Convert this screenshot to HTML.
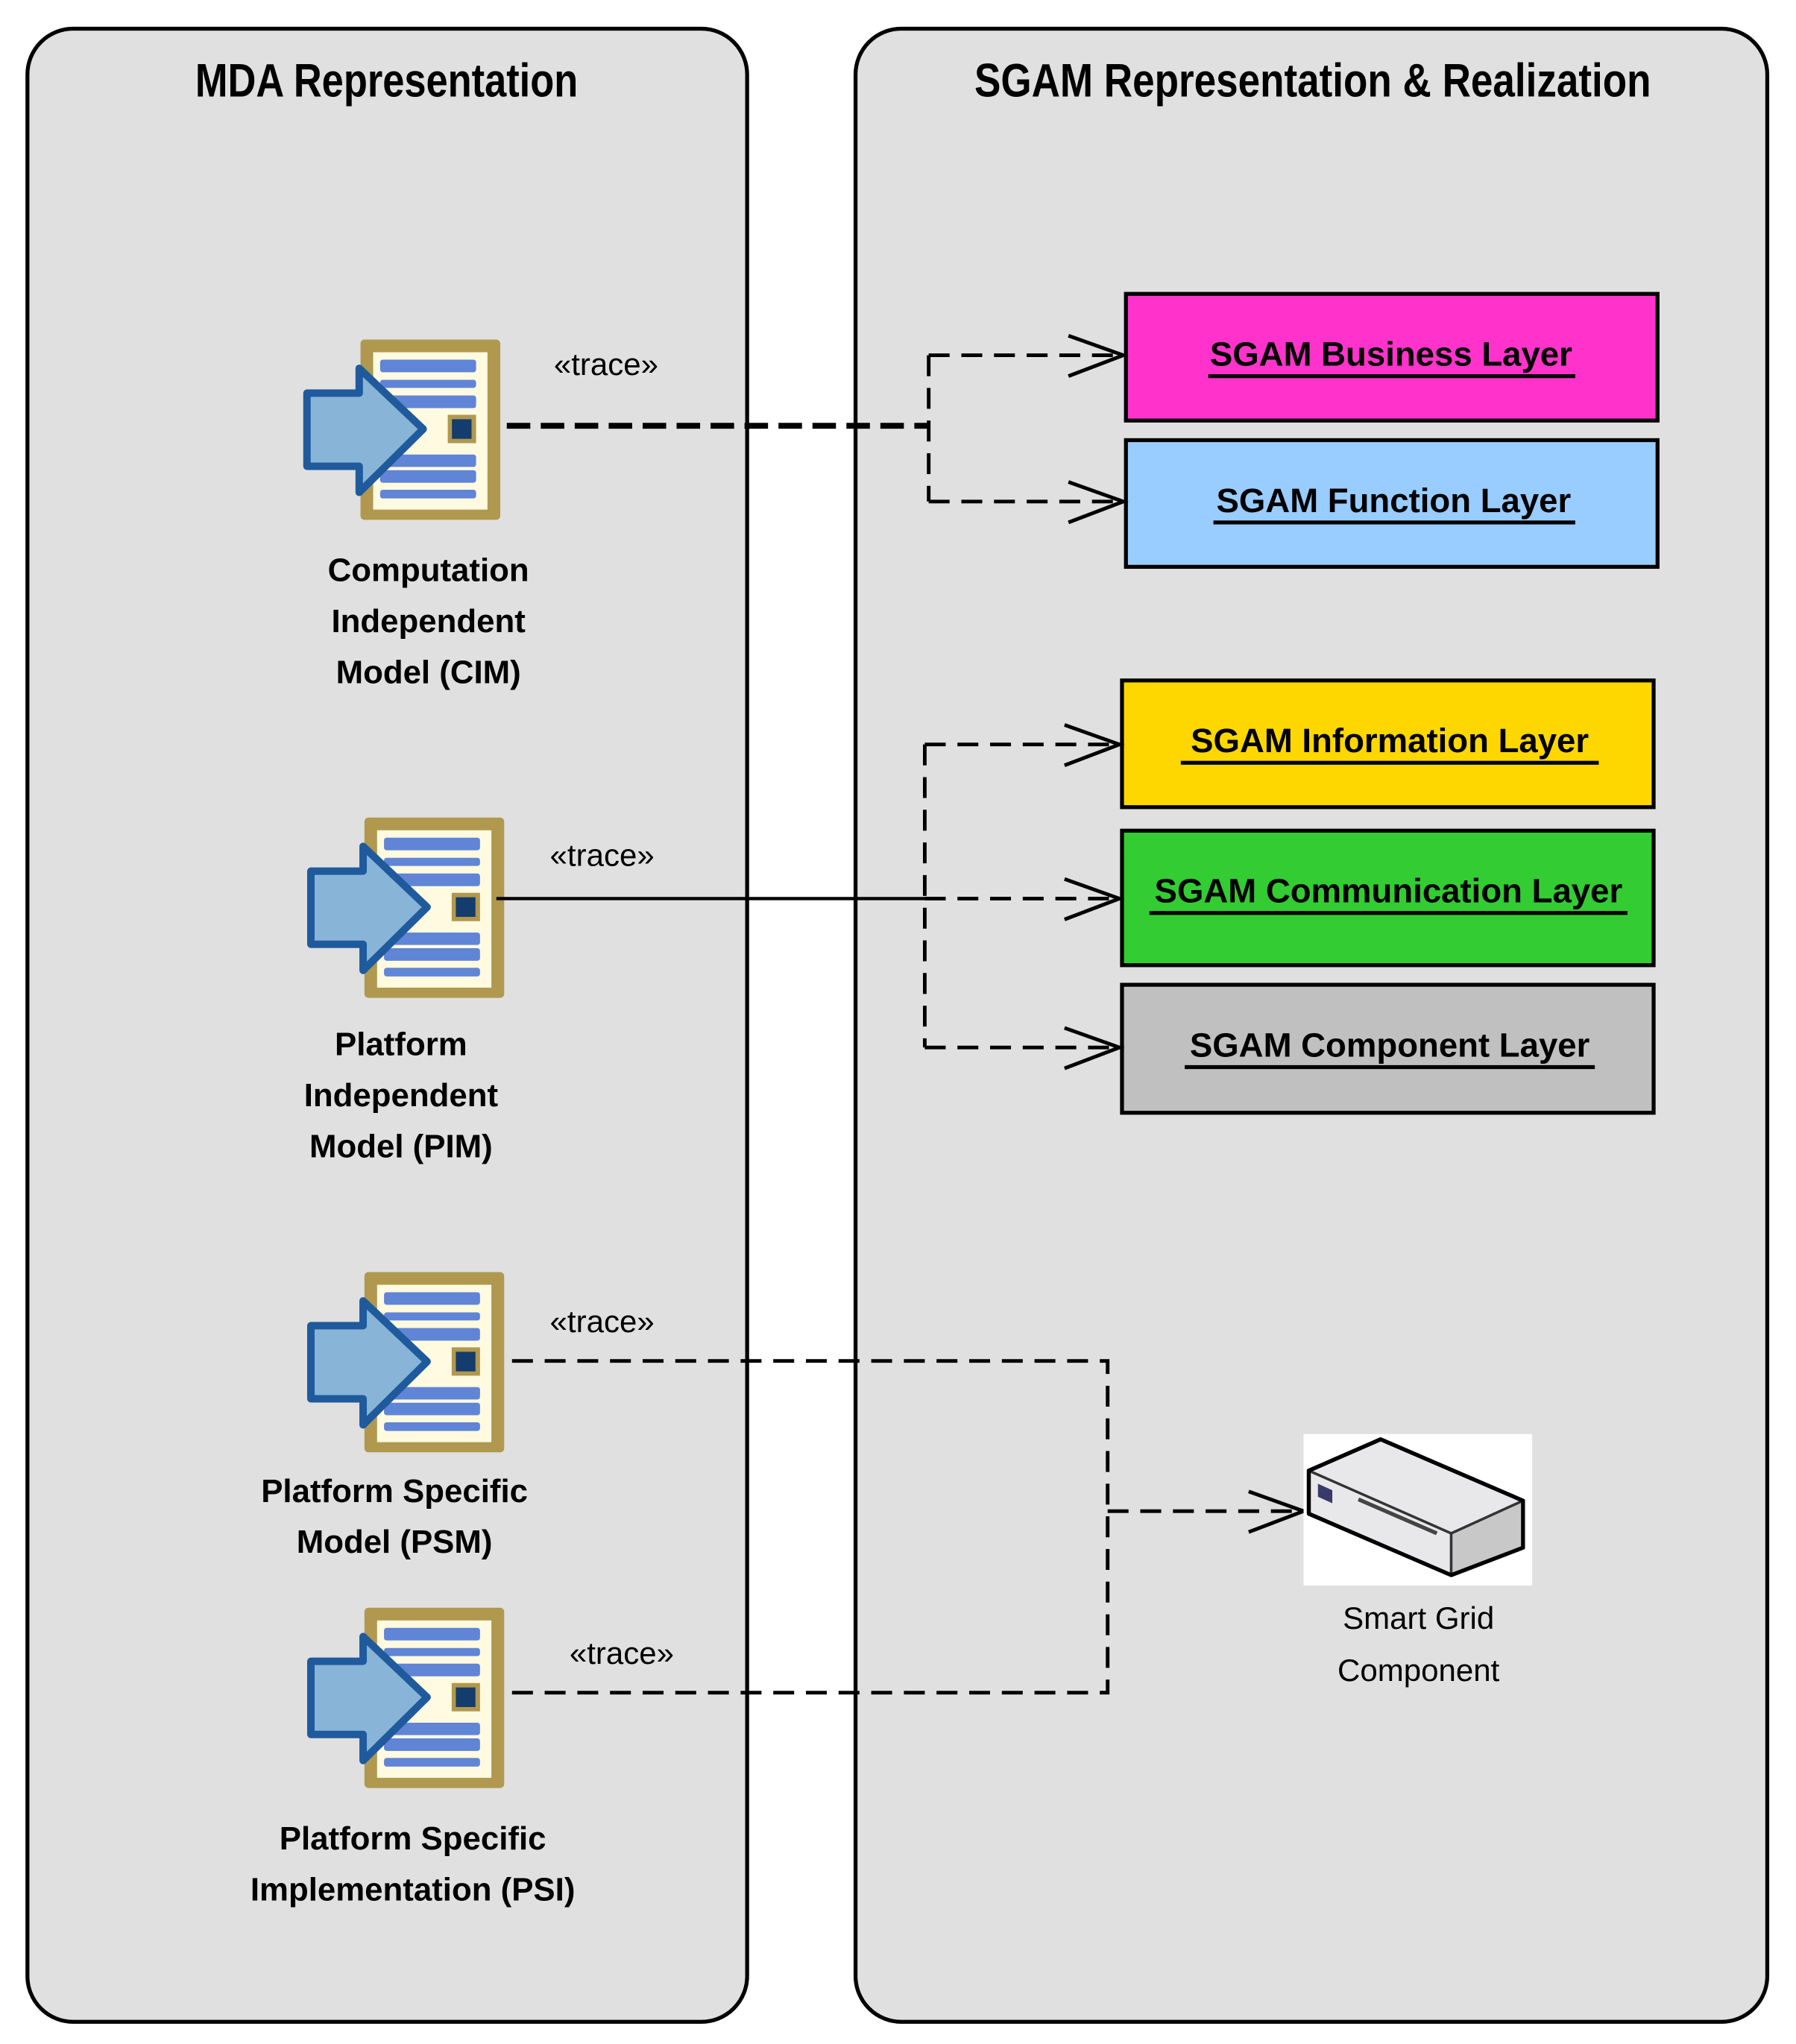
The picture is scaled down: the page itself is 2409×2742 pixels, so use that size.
<!DOCTYPE html>
<html><head><meta charset="utf-8"><style>
html,body{margin:0;padding:0;background:#fff;}
svg{display:block;}
text{font-family:"Liberation Sans",sans-serif;}
</style></head><body>
<svg width="2409" height="2742" viewBox="0 0 1375 1565" preserveAspectRatio="none" xmlns="http://www.w3.org/2000/svg">
<defs>
<g id="ic">
  <rect x="0" y="0" width="107" height="138" rx="3" fill="#b0984f"/>
  <rect x="9.7" y="9.7" width="87.5" height="120.5" fill="#fffae0"/>
  <g fill="#6085d6">
    <rect x="15" y="15.4" width="73.5" height="9.6" rx="2"/>
    <rect x="15" y="30.8" width="73.5" height="6.2" rx="2"/>
    <rect x="15" y="42.8" width="73.5" height="9.7" rx="2"/>
    <rect x="15" y="88" width="73.5" height="9.5" rx="2"/>
    <rect x="15" y="100" width="73.5" height="9.6" rx="2"/>
    <rect x="15" y="115" width="73.5" height="6.6" rx="2"/>
  </g>
  <rect x="66.8" y="57.6" width="21.7" height="21.7" fill="#b0984f"/>
  <rect x="70" y="61" width="15" height="15" fill="#143c6c"/>
  <polygon points="-41,41 -1,41 -1,22 48,68.5 -1,117 -1,97 -41,97" fill="#88b4d8" stroke="#1f5a9c" stroke-width="5.7" stroke-linejoin="round"/>
</g>
</defs>

<rect x="21" y="22" width="551" height="1526" rx="35" fill="#e0e0e0" stroke="#000" stroke-width="3"/>
<rect x="655" y="22" width="698" height="1526" rx="35" fill="#e0e0e0" stroke="#000" stroke-width="3"/>
<text x="296" y="74" text-anchor="middle" font-size="36" font-weight="bold" textLength="293" lengthAdjust="spacingAndGlyphs">MDA Representation</text>
<text x="1005" y="74" text-anchor="middle" font-size="36" font-weight="bold" textLength="518" lengthAdjust="spacingAndGlyphs">SGAM Representation &amp; Realization</text>

<use href="#ic" x="276" y="260"/>
<use href="#ic" x="279" y="626"/>
<use href="#ic" x="279" y="974"/>
<use href="#ic" x="279" y="1231"/>

<g font-size="25" font-weight="bold" text-anchor="middle" fill="#000">
<text x="328" y="445">Computation</text>
<text x="328" y="484">Independent</text>
<text x="328" y="523">Model (CIM)</text>
<text x="307" y="808">Platform</text>
<text x="307" y="847">Independent</text>
<text x="307" y="886">Model (PIM)</text>
<text x="302" y="1150">Platform Specific</text>
<text x="302" y="1189">Model (PSM)</text>
<text x="316" y="1416">Platform Specific</text>
<text x="316" y="1455">Implementation (PSI)</text>
</g>
<g font-size="24" text-anchor="middle" fill="#000">
<text x="464" y="287">«trace»</text>
<text x="461" y="663">«trace»</text>
<text x="461" y="1020">«trace»</text>
<text x="476" y="1274">«trace»</text>
<text x="1086" y="1247">Smart Grid</text>
<text x="1086" y="1287">Component</text>
</g>

<g stroke="#000" stroke-width="3">
<rect x="862" y="225" width="407" height="97" fill="#ff33cc"/>
<rect x="862" y="337" width="407" height="97" fill="#99ccff"/>
<rect x="859" y="521" width="407" height="97" fill="#ffd700"/>
<rect x="859" y="636" width="407" height="103" fill="#33cc33"/>
<rect x="859" y="754" width="407" height="98" fill="#c0c0c0"/>
</g>
<g font-size="26" font-weight="bold" text-anchor="middle" fill="#000">
<text x="1065" y="280">SGAM Business Layer</text>
<text x="1067" y="392">SGAM Function Layer</text>
<text x="1064" y="576">SGAM Information Layer</text>
<text x="1063" y="691">SGAM Communication Layer</text>
<text x="1064" y="809">SGAM Component Layer</text>
</g>
<g stroke="#000" stroke-width="3">
<line x1="925" y1="288" x2="1206" y2="288"/>
<line x1="929" y1="400" x2="1206" y2="400"/>
<line x1="904" y1="584" x2="1224" y2="584"/>
<line x1="880" y1="699" x2="1246" y2="699"/>
<line x1="907" y1="817" x2="1221" y2="817"/>
</g>

<g fill="none" stroke="#000">
<line x1="388" y1="326" x2="711" y2="326" stroke-width="4.5" stroke-dasharray="18,8"/>
<g stroke-width="2.8" stroke-dasharray="16,9">
<path d="M711 272 V384"/>
<path d="M711 272 H858"/>
<path d="M711 384 H858"/>
<path d="M708 570 V802"/>
<path d="M708 570 H856"/>
<path d="M708 688 H856"/>
<path d="M708 802 H856"/>
<path d="M392 1042 H848 V1296 H392"/>
<path d="M848 1157 H996"/>
</g>
<line x1="380" y1="688" x2="708" y2="688" stroke-width="2.5"/>
<g stroke-width="2.8">
<path d="M818 257 L860 272 L818 288"/>
<path d="M818 369 L860 384 L818 400"/>
<path d="M815 555 L857 570 L815 586"/>
<path d="M815 673 L857 688 L815 704"/>
<path d="M815 787 L857 802 L815 818"/>
<path d="M956 1142 L998 1157 L956 1173"/>
</g>
</g>

<rect x="998" y="1098" width="175" height="116" fill="#fff"/>
<polygon points="1057,1102 1166,1149 1166,1185 1111,1206 1002,1159 1002,1126" fill="#e8e8ea" stroke="#000" stroke-width="3" stroke-linejoin="round"/>
<polygon points="1111,1174 1166,1149 1166,1185 1111,1206" fill="#c8c8c8"/>
<path d="M1002 1126 L1111 1174 L1166 1149 M1111 1174 V1206" fill="none" stroke="#333" stroke-width="2"/>
<path d="M1009 1136 L1020 1141 L1020 1151 L1009 1146 Z" fill="#3a3a6a"/>
<path d="M1040 1148 L1100 1174" stroke="#444" stroke-width="3"/>
<polygon points="1057,1102 1166,1149 1166,1185 1111,1206 1002,1159 1002,1126" fill="none" stroke="#000" stroke-width="3" stroke-linejoin="round"/>
</svg>
</body></html>
